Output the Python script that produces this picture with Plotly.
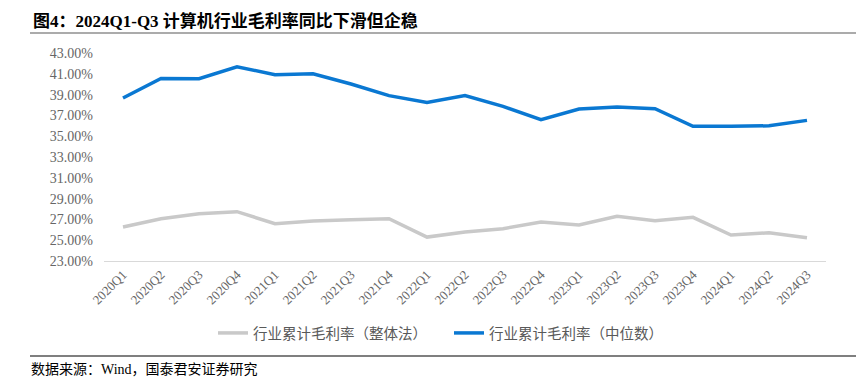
import plotly.graph_objects as go

quarters = ["2020Q1", "2020Q2", "2020Q3", "2020Q4", "2021Q1", "2021Q2", "2021Q3", "2021Q4",
            "2022Q1", "2022Q2", "2022Q3", "2022Q4", "2023Q1", "2023Q2", "2023Q3", "2023Q4",
            "2024Q1", "2024Q2", "2024Q3"]
overall_margin = [26.27, 27.07, 27.55, 27.74, 26.59, 26.84, 26.97, 27.07,
                  25.30, 25.79, 26.11, 26.75, 26.46, 27.29, 26.88, 27.20,
                  25.50, 25.72, 25.24]
median_margin = [38.67, 40.56, 40.53, 41.68, 40.91, 41.00, 40.02, 38.90,
                 38.25, 38.90, 37.87, 36.59, 37.62, 37.81, 37.64, 35.95,
                 35.95, 36.00, 36.52]
name_overall = "行业累计毛利率（整体法）"
name_median = "行业累计毛利率（中位数）"
title_text = "<b>图4：2024Q1-Q3 计算机行业毛利率同比下滑但企稳</b>"
source_text = "数据来源：Wind，国泰君安证券研究"
y_ticks = [23, 25, 27, 29, 31, 33, 35, 37, 39, 41, 43]

W, H = 856, 383
L, R, T, B = 104, 30, 53, 122
pw, ph = W - L - R, H - T - B

def px(x):
    return (x - L) / pw

def py(y):
    return (H - B - y) / ph

serif = "Liberation Serif, Noto Sans CJK SC, serif"
cjk = "Noto Sans CJK SC, Liberation Serif, sans-serif"

fig = go.Figure()
fig.add_trace(go.Scatter(x=quarters, y=overall_margin, mode="lines", name=name_overall,
                         line=dict(color="#c9c9c9", width=3.5)))
fig.add_trace(go.Scatter(x=quarters, y=median_margin, mode="lines", name=name_median,
                         line=dict(color="#0a78d2", width=3.5)))

fig.update_layout(
    width=W, height=H,
    margin=dict(l=L, r=R, t=T, b=B, autoexpand=False),
    paper_bgcolor="white", plot_bgcolor="white",
    showlegend=True,
    legend=dict(orientation="h", x=px(213), xanchor="left", y=py(333), yanchor="middle",
                font=dict(family=cjk, size=14.5, color="#595959"),
                entrywidth=191, entrywidthmode="pixels", bgcolor="rgba(0,0,0,0)"),
    xaxis=dict(type="category", range=[-0.5, len(quarters) - 0.5], showgrid=False,
               showline=True, linecolor="#d9d9d9", linewidth=1, ticks="",
               tickangle=-45, tickfont=dict(family=serif, size=13, color="#666666"),
               zeroline=False, automargin=False),
    yaxis=dict(range=[23, 43], tickvals=y_ticks,
               ticktext=[f"{v:.2f}%" for v in y_ticks], showgrid=False,
               showline=False, zeroline=False, ticks="",
               tickfont=dict(family=serif, size=14, color="#666666"),
               ticklabelstandoff=10, automargin=False),
    annotations=[
        dict(text=title_text, xref="paper", yref="paper", x=px(31), y=py(21),
             xanchor="left", yanchor="middle", showarrow=False,
             font=dict(family=serif, size=17, color="#000000")),
        dict(text=source_text, xref="paper", yref="paper", x=px(29), y=py(369),
             xanchor="left", yanchor="middle", showarrow=False,
             font=dict(family=serif, size=14, color="#000000")),
    ],
    shapes=[
        dict(type="line", xref="paper", yref="paper", x0=px(30), x1=px(856),
             y0=py(33), y1=py(33), line=dict(color="#595959", width=1.2)),
        dict(type="line", xref="paper", yref="paper", x0=px(30), x1=px(856),
             y0=py(356), y1=py(356), line=dict(color="#7f7f7f", width=2)),
    ],
)

fig.write_html("out.html", config={"displayModeBar": False},
               post_script="document.body.style.margin='0';document.body.style.padding='0';")
